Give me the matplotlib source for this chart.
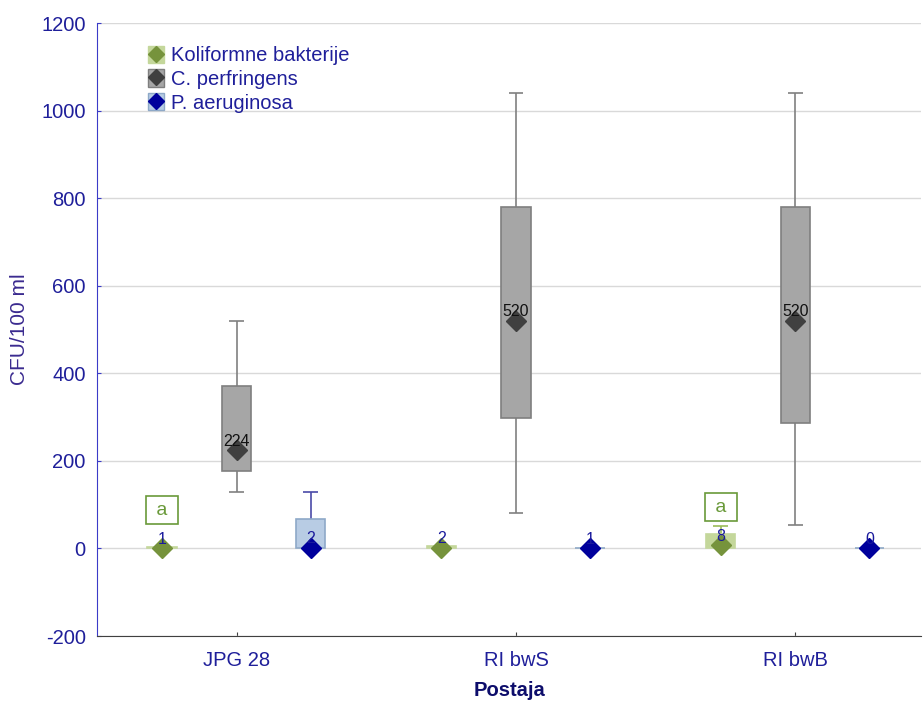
import matplotlib.pyplot as plt
from matplotlib.patches import Rectangle
from matplotlib.lines import Line2D
import numpy as np

plt.rcParams['font.family'] = ['Liberation Sans', 'DejaVu Sans']
plt.rcParams['axes.unicode_minus'] = False

stations = ["JPG 28", "RI bwS", "RI bwB"]
series = ["Koliformne bakterije", "C. perfringens", "P. aeruginosa"]

# median, box (q1..q3), whiskers (lo..hi)
kol_med = [1, 2, 8]
kol_q1 = [0, 0, 0]
kol_q3 = [3, 5, 32]
kol_lo = [0, 0, 0]
kol_hi = [3, 6, 52]

cp_med = [224, 520, 520]
cp_q1 = [176, 298, 287]
cp_q3 = [372, 779, 779]
cp_lo = [128, 80, 53]
cp_hi = [520, 1040, 1040]

pa_med = [2, 1, 0]
pa_q1 = [0, 0, 0]
pa_q3 = [68, 2, 1]
pa_lo = [0, 0, 0]
pa_hi = [130, 2, 1]

letters = [("a", 0, 87), ("a", 2, 94)]  # text, station index, y

meds = [kol_med, cp_med, pa_med]
q1s = [kol_q1, cp_q1, pa_q1]
q3s = [kol_q3, cp_q3, pa_q3]
los = [kol_lo, cp_lo, pa_lo]
his = [kol_hi, cp_hi, pa_hi]

box_fill = ['#c4d79b', '#a6a6a6', '#b8cce4']
box_edge = ['#c4d79b', '#7f7f7f', '#8ea9c8']
whisk_col = ['#9bbb59', '#808080', '#4a4aa8']
mark_col = ['#76933c', '#404040', '#00009c']
lab_col = ['#1a1a9c', '#111111', '#1a1a9c']
offsets = [-0.267, 0, 0.265]
bw = 0.105

fig = plt.figure(figsize=(9.23, 7.02), dpi=100)
ax = fig.add_axes([0.105, 0.094, 0.893, 0.873])

x = np.arange(len(stations))
for s in range(3):
    xs = x + offsets[s]
    q1 = np.array(q1s[s]); q3 = np.array(q3s[s])
    ax.vlines(xs, q3, his[s], color=whisk_col[s], lw=1.2, zorder=2)
    ax.vlines(xs, los[s], q1, color=whisk_col[s], lw=1.2, zorder=2)
    for xi, hi, lo, a, b in zip(xs, his[s], los[s], q3, q1):
        if hi > a:
            ax.hlines(hi, xi - bw * 0.25, xi + bw * 0.25, color=whisk_col[s], lw=1.2, zorder=2)
        if lo < b:
            ax.hlines(lo, xi - bw * 0.25, xi + bw * 0.25, color=whisk_col[s], lw=1.2, zorder=2)
    ax.bar(xs, np.maximum(q3 - q1, 1.5), bottom=q1, width=bw, color=box_fill[s],
           edgecolor=box_edge[s], lw=1.2, zorder=3)
    ax.plot(xs, meds[s], ls='none', marker='D', ms=10, color=mark_col[s], zorder=4)
    for xi, m in zip(xs, meds[s]):
        ax.annotate(str(m), (xi, m), xytext=(0, 1), textcoords='offset points',
                    ha='center', va='bottom', fontsize=11.5, color=lab_col[s], zorder=5)

for t, i, yv in letters:
    ax.text(x[i] + offsets[0], yv, " " + t + " ", ha='center', va='center', fontsize=14,
            color='#6a9a3a',
            bbox=dict(boxstyle='square,pad=0.28', fc='white', ec='#6a9a3a', lw=1.2), zorder=6)

ax.set_xlim(-0.5, 2.45)
ax.set_ylim(-200, 1200)
ax.set_yticks(np.arange(-200, 1201, 200))
ax.set_xticks(x)
ax.set_xticklabels(stations)
ax.yaxis.grid(True, color='#d9d9d9', lw=1)
ax.set_axisbelow(True)
for sp in ['top', 'right']:
    ax.spines[sp].set_visible(False)
ax.spines['left'].set_color('#3b3bc8')
ax.spines['bottom'].set_color('#404040')
ax.tick_params(axis='y', direction='in', length=3, colors='#3b3bc8', labelcolor='#1f1f9a',
               labelsize=14.5, pad=8)
ax.tick_params(axis='x', direction='in', length=3, colors='#404040', labelcolor='#1f1f9a',
               labelsize=14.5, pad=11)
ax.set_ylabel("CFU/100 ml", fontsize=15, color='#3a2a8f', labelpad=9)
ax.set_xlabel("Postaja", fontsize=14.5, color='#0d0d6b', fontweight='bold', labelpad=8)

handles = []
for s in range(3):
    p = Rectangle((0, 0), 1, 1, fc=box_fill[s], ec=box_edge[s])
    m = Line2D([], [], ls='none', marker='D', ms=8.5, color=mark_col[s])
    handles.append((p, m))
ax.legend(handles, series, loc='upper left', bbox_to_anchor=(0.062, 0.963), frameon=False,
          fontsize=14.5, labelcolor='#1f1f9a', handlelength=0.8, handleheight=0.95,
          handletextpad=0.35, labelspacing=0.2, borderaxespad=0, borderpad=0)

fig.savefig("out.png", dpi=100)
